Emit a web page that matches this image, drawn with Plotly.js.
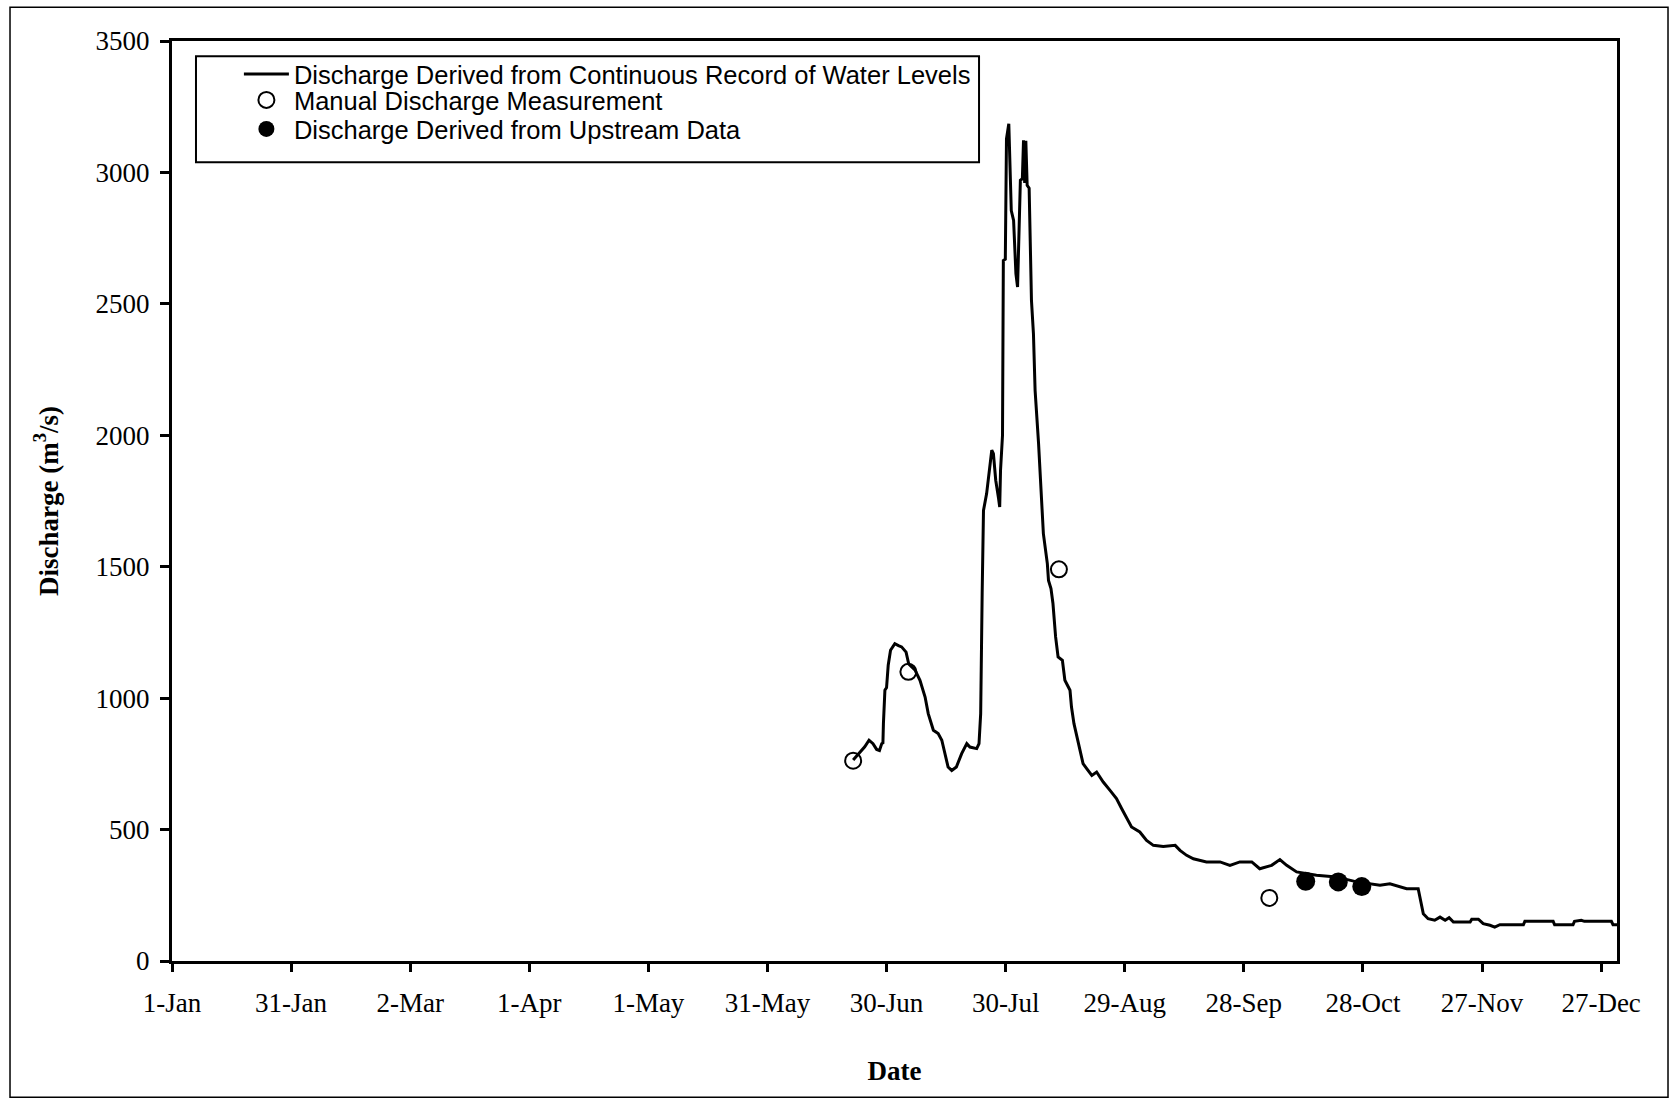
<!DOCTYPE html>
<html>
<head>
<meta charset="utf-8">
<script src="https://cdn.plot.ly/plotly-3.0.1.min.js"></script>
<style>html,body{margin:0;padding:0;background:#fff;}#chart{width:1671px;height:1100px;}</style>
</head>
<body>
<div id="chart"></div>
<script>
// Continuous discharge record (m3/s)
const flowDates = [
"2001-06-21 14:00","2001-06-23 07:00","2001-06-24 12:00","2001-06-25 14:00","2001-06-26 14:00","2001-06-27 12:00","2001-06-28 05:00","2001-06-28 19:00","2001-06-29 02:00","2001-06-29 05:00",
"2001-06-29 14:00","2001-06-30 00:00","2001-06-30 10:00","2001-07-01 00:00","2001-07-02 02:00","2001-07-03 00:00","2001-07-03 19:00","2001-07-04 22:00","2001-07-05 14:00","2001-07-07 05:00",
"2001-07-08 10:00","2001-07-09 17:00","2001-07-10 12:00","2001-07-11 19:00","2001-07-13 00:00","2001-07-13 22:00","2001-07-14 17:00","2001-07-15 12:00","2001-07-16 10:00","2001-07-17 14:00",
"2001-07-18 22:00","2001-07-20 05:00","2001-07-21 00:00","2001-07-22 17:00","2001-07-23 07:00","2001-07-23 17:00","2001-07-24 02:00","2001-07-24 10:00","2001-07-25 05:00","2001-07-26 00:00",
"2001-07-26 12:00","2001-07-26 22:00","2001-07-27 12:00","2001-07-28 05:00","2001-07-28 12:00","2001-07-28 17:00","2001-07-29 05:00","2001-07-29 10:00","2001-07-29 22:00","2001-07-30 05:00",
"2001-07-30 19:00","2001-07-31 10:00","2001-08-01 00:00","2001-08-01 14:00","2001-08-02 00:00","2001-08-02 17:00","2001-08-03 05:00","2001-08-03 12:00","2001-08-03 19:00","2001-08-04 02:00",
"2001-08-04 10:00","2001-08-04 22:00","2001-08-05 05:00","2001-08-05 12:00","2001-08-06 00:00","2001-08-06 10:00","2001-08-07 07:00","2001-08-07 19:00","2001-08-08 12:00","2001-08-09 12:00",
"2001-08-09 19:00","2001-08-10 10:00","2001-08-10 22:00","2001-08-11 14:00","2001-08-12 05:00","2001-08-13 07:00","2001-08-13 22:00","2001-08-15 05:00","2001-08-15 14:00","2001-08-16 05:00",
"2001-08-16 22:00","2001-08-17 17:00","2001-08-18 12:00","2001-08-19 10:00","2001-08-20 17:00","2001-08-21 22:00","2001-08-23 14:00","2001-08-25 07:00","2001-08-26 22:00","2001-08-28 05:00",
"2001-08-29 12:00","2001-08-30 17:00","2001-09-01 19:00","2001-09-03 12:00","2001-09-05 05:00","2001-09-07 17:00","2001-09-10 17:00","2001-09-11 22:00","2001-09-13 14:00","2001-09-15 07:00",
"2001-09-18 14:00","2001-09-22 00:00","2001-09-24 12:00","2001-09-27 00:00","2001-09-30 00:00","2001-10-02 00:00","2001-10-05 00:00","2001-10-07 02:00","2001-10-08 19:00","2001-10-11 07:00",
"2001-10-16 07:00","2001-10-21 07:00","2001-10-26 10:00","2001-11-01 07:00","2001-11-03 19:00","2001-11-06 07:00","2001-11-08 00:00","2001-11-10 22:00","2001-11-11 12:00","2001-11-12 05:00",
"2001-11-13 10:00","2001-11-15 02:00","2001-11-16 10:00","2001-11-17 17:00","2001-11-18 17:00","2001-11-19 19:00","2001-11-24 00:00","2001-11-24 10:00","2001-11-26 02:00","2001-11-27 07:00",
"2001-11-29 00:00","2001-11-30 05:00","2001-12-01 12:00","2001-12-07 10:00","2001-12-07 19:00","2001-12-14 22:00","2001-12-15 07:00","2001-12-19 22:00","2001-12-20 07:00","2001-12-22 00:00",
"2001-12-22 19:00","2001-12-29 14:00","2001-12-30 00:00","2001-12-31 23:00"
];
const flowValues = [
765,795,815,840,827,805,801,827,830,903,
1030,1040,1125,1182,1207,1200,1195,1175,1130,1106,
1068,1004,941,878,865,840,789,738,725,738,
789,827,814,808,827,941,1400,1714,1778,1892,
1943,1930,1829,1760,1727,1867,2000,2665,2670,3128,
3185,2855,2817,2615,2564,2970,2976,3122,2960,3120,
2951,2940,2653,2513,2387,2171,1968,1803,1626,1512,
1448,1417,1360,1233,1157,1144,1068,1030,966,903,
852,802,751,732,706,719,681,649,618,580,
542,510,491,459,440,436,440,421,402,389,
377,377,364,377,377,351,364,386,364,339,
326,320,301,288,294,281,275,275,231,180,
161,155,167,155,165,148,148,159,159,142,
136,129,138,138,151,151,138,138,151,155,
151,151,138,138
];
// Manual discharge measurements
const manualDates = ["2001-06-21 14:00","2001-07-05 12:00","2001-08-12 10:00","2001-10-04 10:00"];
const manualValues = [762,1100,1490,240];
// Discharge derived from upstream data
const upstreamDates = ["2001-10-13 14:00","2001-10-21 19:00","2001-10-27 17:00"];
const upstreamValues = [303,301,283];
// Axis ticks
const xTickVals = ["2001-01-01","2001-01-31","2001-03-02","2001-04-01","2001-05-01","2001-05-31","2001-06-30","2001-07-30","2001-08-29","2001-09-28","2001-10-28","2001-11-27","2001-12-27"];
const xTickText = ["1-Jan","31-Jan","2-Mar","1-Apr","1-May","31-May","30-Jun","30-Jul","29-Aug","28-Sep","28-Oct","27-Nov","27-Dec"];
const seriesNames = ["Discharge Derived from Continuous Record of Water Levels","Manual Discharge Measurement","Discharge Derived from Upstream Data"];

const serif = "'Liberation Serif','Times New Roman',serif";
const sans = "'Liberation Sans',Arial,sans-serif";

const traces = [
  {x: flowDates, y: flowValues, type: "scatter", mode: "lines", name: seriesNames[0], legend: "legend",
   line: {color: "#000", width: 3}},
  {x: manualDates, y: manualValues, type: "scatter", mode: "markers", name: seriesNames[1], legend: "legend2",
   marker: {symbol: "circle-open", size: 16, color: "#000", line: {width: 2, color: "#000"}}},
  {x: upstreamDates, y: upstreamValues, type: "scatter", mode: "markers", name: seriesNames[2], legend: "legend3",
   marker: {symbol: "circle", size: 19, color: "#000"}}
];

function legendAt(yPaper) {
  return {x: 0.0463, y: yPaper, xanchor: "left", yanchor: "middle",
    bgcolor: "rgba(0,0,0,0)", borderwidth: 0, itemwidth: 45,
    font: {family: sans, size: 25.5, color: "#000"}};
}

const layout = {
  width: 1671, height: 1100,
  margin: {l: 172, r: 54, t: 41, b: 139},
  paper_bgcolor: "#fff", plot_bgcolor: "#fff",
  showlegend: true,
  legend: legendAt(0.9638),
  legend2: legendAt(0.9355),
  legend3: legendAt(0.9040),
  xaxis: {type: "date", range: ["2001-01-01", "2001-12-31"],
    tickmode: "array", tickvals: xTickVals, ticktext: xTickText,
    showgrid: false, zeroline: false, showline: true, mirror: true,
    linecolor: "#000", linewidth: 3, ticks: "outside", ticklen: 8, tickwidth: 3, tickcolor: "#000",
    tickfont: {family: serif, size: 27, color: "#000"}, ticklabelstandoff: 8,
    title: {text: "<b>Date</b>", font: {family: serif, size: 27, color: "#000"}, standoff: 44}},
  yaxis: {range: [0, 3500], dtick: 500, tick0: 0,
    showgrid: false, zeroline: false, showline: true, mirror: true,
    linecolor: "#000", linewidth: 3, ticks: "outside", ticklen: 9, tickwidth: 3, tickcolor: "#000",
    tickfont: {family: serif, size: 27, color: "#000"}, ticklabelstandoff: 5,
    title: {text: "<b>Discharge (m<sup>3</sup>/s)</b>", font: {family: serif, size: 27, color: "#000"}, standoff: 30}},
  shapes: [
    {type: "rect", xref: "paper", yref: "paper", x0: -0.1121, x1: 1.0353, y0: -0.148, y1: 1.0366,
     line: {color: "#000", width: 1.5}, fillcolor: "rgba(0,0,0,0)", layer: "below"},
    {type: "rect", xref: "paper", yref: "paper", x0: 0.0166, x1: 0.5585, y0: 0.8682, y1: 0.9834,
     line: {color: "#000", width: 2}, fillcolor: "#fff", layer: "below"}
  ]
};

Plotly.newPlot("chart", traces, layout, {displayModeBar: false, staticPlot: true});
</script>
</body>
</html>
